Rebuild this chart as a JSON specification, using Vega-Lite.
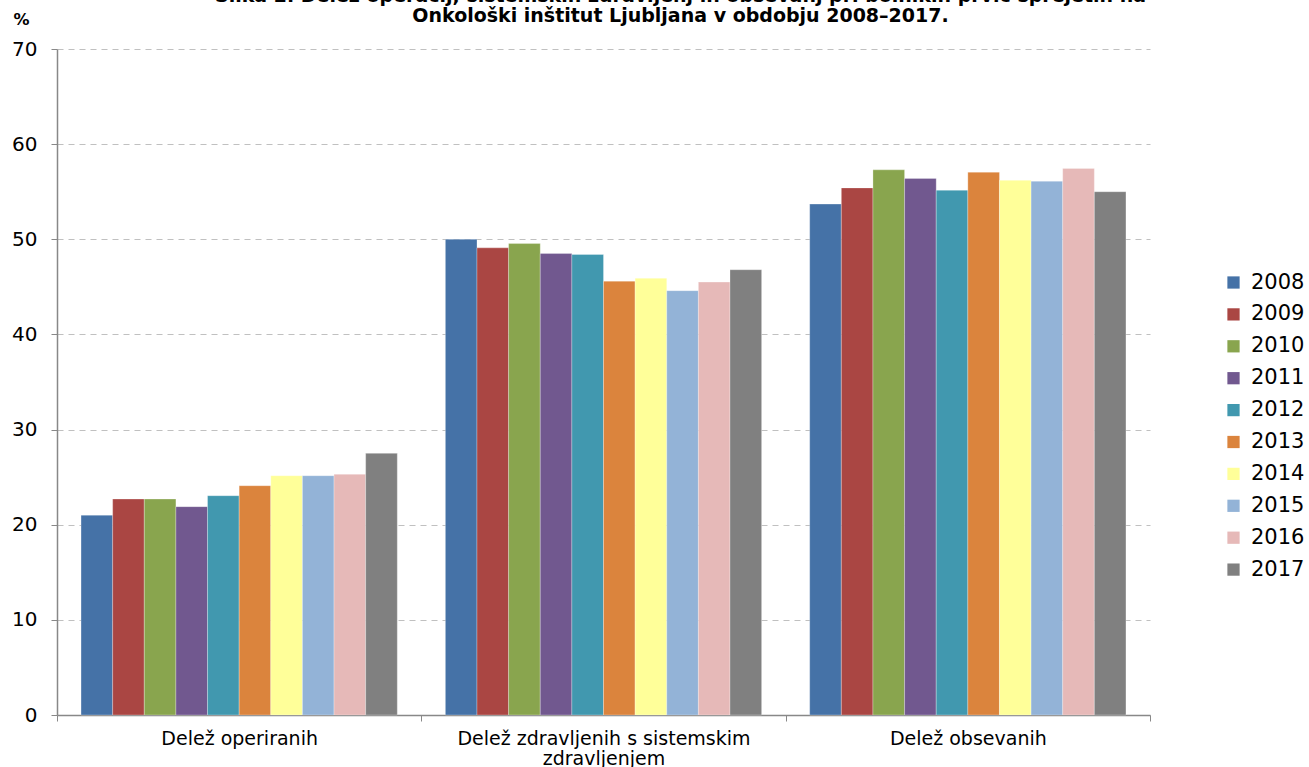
{
  "$schema": "https://vega.github.io/schema/vega-lite/v6.json",
  "width": 1093,
  "height": 666,
  "autosize": {"type": "none"},
  "padding": {"left": 57, "top": 49, "right": 159, "bottom": 52},
  "background": "white",
  "title": {
    "text": ["Slika 2. Delež operacij, sistemskih  zdravljenj in obsevanj pri bolnikih prvič sprejetih na", "Onkološki  inštitut  Ljubljana v obdobju 2008–2017."],
    "anchor": "middle",
    "frame": "group",
    "dx": 77,
    "offset": -15,
    "font": "DejaVu Sans",
    "fontSize": 19,
    "fontWeight": "bold",
    "color": "#000000",
    "lineHeight": 20
  },
  "data": {
    "values": [
      {"kategorija": "Delež operiranih", "leto": "2008", "odstotek": 21.0},
      {"kategorija": "Delež operiranih", "leto": "2009", "odstotek": 22.7},
      {"kategorija": "Delež operiranih", "leto": "2010", "odstotek": 22.7},
      {"kategorija": "Delež operiranih", "leto": "2011", "odstotek": 21.9},
      {"kategorija": "Delež operiranih", "leto": "2012", "odstotek": 23.05},
      {"kategorija": "Delež operiranih", "leto": "2013", "odstotek": 24.1},
      {"kategorija": "Delež operiranih", "leto": "2014", "odstotek": 25.15},
      {"kategorija": "Delež operiranih", "leto": "2015", "odstotek": 25.15},
      {"kategorija": "Delež operiranih", "leto": "2016", "odstotek": 25.3},
      {"kategorija": "Delež operiranih", "leto": "2017", "odstotek": 27.5},
      {"kategorija": "Delež zdravljenih s sistemskim zdravljenjem", "leto": "2008", "odstotek": 50.0},
      {"kategorija": "Delež zdravljenih s sistemskim zdravljenjem", "leto": "2009", "odstotek": 49.1},
      {"kategorija": "Delež zdravljenih s sistemskim zdravljenjem", "leto": "2010", "odstotek": 49.55},
      {"kategorija": "Delež zdravljenih s sistemskim zdravljenjem", "leto": "2011", "odstotek": 48.5},
      {"kategorija": "Delež zdravljenih s sistemskim zdravljenjem", "leto": "2012", "odstotek": 48.4},
      {"kategorija": "Delež zdravljenih s sistemskim zdravljenjem", "leto": "2013", "odstotek": 45.6},
      {"kategorija": "Delež zdravljenih s sistemskim zdravljenjem", "leto": "2014", "odstotek": 45.9},
      {"kategorija": "Delež zdravljenih s sistemskim zdravljenjem", "leto": "2015", "odstotek": 44.6},
      {"kategorija": "Delež zdravljenih s sistemskim zdravljenjem", "leto": "2016", "odstotek": 45.5},
      {"kategorija": "Delež zdravljenih s sistemskim zdravljenjem", "leto": "2017", "odstotek": 46.8},
      {"kategorija": "Delež obsevanih", "leto": "2008", "odstotek": 53.7},
      {"kategorija": "Delež obsevanih", "leto": "2009", "odstotek": 55.4},
      {"kategorija": "Delež obsevanih", "leto": "2010", "odstotek": 57.3},
      {"kategorija": "Delež obsevanih", "leto": "2011", "odstotek": 56.4},
      {"kategorija": "Delež obsevanih", "leto": "2012", "odstotek": 55.15},
      {"kategorija": "Delež obsevanih", "leto": "2013", "odstotek": 57.05},
      {"kategorija": "Delež obsevanih", "leto": "2014", "odstotek": 56.2},
      {"kategorija": "Delež obsevanih", "leto": "2015", "odstotek": 56.1},
      {"kategorija": "Delež obsevanih", "leto": "2016", "odstotek": 57.45},
      {"kategorija": "Delež obsevanih", "leto": "2017", "odstotek": 55.0}
    ]
  },
  "mark": {"type": "bar", "stroke": "#ffffff", "strokeOpacity": 0.35, "strokeWidth": 0.8},
  "encoding": {
    "x": {
      "field": "kategorija",
      "type": "nominal",
      "sort": null,
      "scale": {"paddingInner": 0, "paddingOuter": 0},
      "axis": {
        "title": null,
        "labelAngle": 0,
        "labelFont": "DejaVu Sans",
        "labelFontSize": 19,
        "labelColor": "#000000",
        "labelPadding": 8,
        "labelLineHeight": 20,
        "labelLimit": 500,
        "labelExpr": "datum.value == 'Delež zdravljenih s sistemskim zdravljenjem' ? ['Delež zdravljenih s sistemskim', 'zdravljenjem'] : datum.value",
        "tickBand": "extent",
        "tickSize": 6,
        "tickColor": "#888888",
        "domainColor": "#888888",
        "domainWidth": 1.5
      }
    },
    "xOffset": {"field": "leto", "type": "nominal", "sort": null, "scale": {"paddingInner": 0, "paddingOuter": 0.76}},
    "y": {
      "field": "odstotek",
      "type": "quantitative",
      "scale": {"domain": [0, 70], "nice": false},
      "axis": {
        "values": [0, 10, 20, 30, 40, 50, 60, 70],
        "title": "%",
        "titleAngle": 0,
        "titleAlign": "left",
        "titleBaseline": "middle",
        "titleX": -44,
        "titleY": -30,
        "titleFont": "DejaVu Sans",
        "titleFontSize": 16,
        "titleFontWeight": "bold",
        "titleColor": "#000000",
        "labelFont": "DejaVu Sans",
        "labelFontSize": 20,
        "labelColor": "#000000",
        "labelPadding": 14,
        "tickSize": 6,
        "tickColor": "#888888",
        "domainColor": "#888888",
        "domainWidth": 1.5,
        "grid": true,
        "gridColor": "#c0c0c0",
        "gridDash": [6, 5],
        "gridWidth": 1.2
      }
    },
    "color": {
      "field": "leto",
      "type": "nominal",
      "scale": {
        "domain": ["2008", "2009", "2010", "2011", "2012", "2013", "2014", "2015", "2016", "2017"],
        "range": ["#4572A7", "#AA4643", "#89A54E", "#71588F", "#4198AF", "#DB843D", "#FFFF99", "#93B3D7", "#E6B9B8", "#808080"]
      },
      "legend": {
        "title": null,
        "orient": "none",
        "legendX": 1166,
        "legendY": 223,
        "symbolType": "square",
        "symbolSize": 150,
        "symbolStrokeWidth": 0,
        "labelFont": "DejaVu Sans",
        "labelFontSize": 21,
        "labelColor": "#000000",
        "labelOffset": 7,
        "rowPadding": 9.9,
        "labelLimit": 200
      }
    }
  },
  "config": {
    "view": {"stroke": null}
  }
}
